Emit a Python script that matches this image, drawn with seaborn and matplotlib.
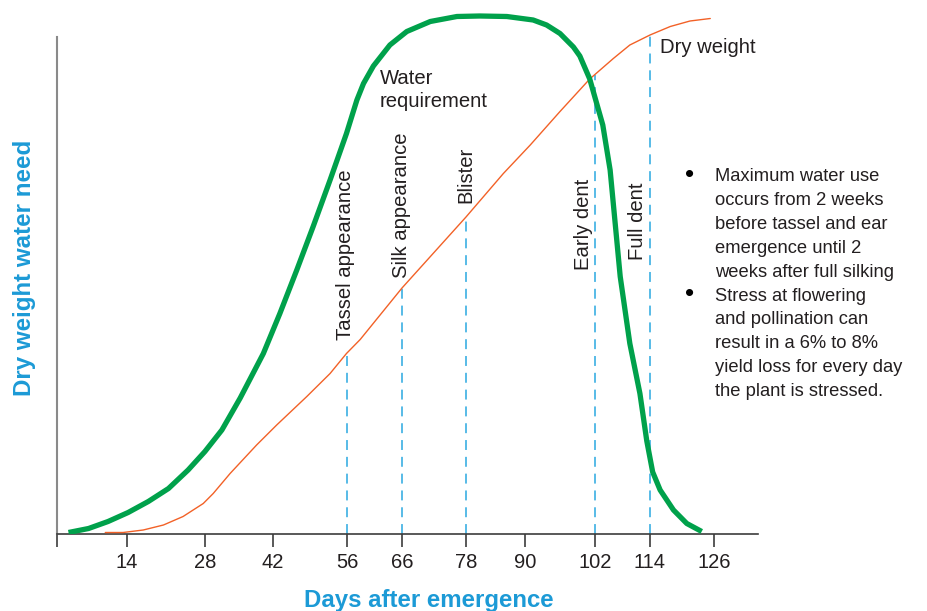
#!/usr/bin/env python3
"""Corn water requirement vs dry weight accumulation over the season."""

import numpy as np
import pandas as pd
import matplotlib
matplotlib.use("Agg")
import matplotlib.pyplot as plt
import seaborn as sns

# ============================== DATA ========================================
# water requirement curve (days after emergence, relative need)
WATER_DAYS = [3.5, 7.1, 10.6, 14.2, 17.8, 21.4, 24.9, 27.9, 31.4, 35.2,
              40.0, 43.3, 46.5, 49.6, 52.8, 55.9, 57.8, 59.0, 60.8, 63.8,
              66.9, 71.3, 76.3, 80.8, 86.3, 91.4, 93.7, 96.0, 98.3, 99.4,
              101.1, 103.7, 105.3, 107.5, 109.6, 111.8, 113.3, 114.5,
              115.9, 118.4, 120.9, 123.7]
WATER_NEED = [0.3, 1.1, 2.5, 4.3, 6.5, 9.1, 12.8, 16.5, 20.8, 27.2,
              36.1, 44.1, 52.8, 61.5, 70.8, 80.1, 86.8, 90.1, 93.6, 97.8,
              100.5, 102.5, 103.5, 103.6, 103.5, 102.8, 101.8, 100.1, 97.4,
              95.6, 91.0, 81.8, 72.8, 51.5, 38.1, 28.1, 18.6, 12.4,
              8.8, 4.8, 2.1, 0.5]

# dry weight accumulation curve
DRY_DAYS = [10.1, 13.3, 16.9, 20.5, 24.0, 27.6, 29.6, 33.1, 38.6, 42.7,
            48.4, 52.8, 55.9, 58.4, 66.0, 78.0, 85.6, 90.9, 96.0, 101.1,
            106.0, 109.6, 114.0, 117.8, 121.5, 125.3]
DRY_WEIGHT = [0.3, 0.3, 0.8, 1.8, 3.5, 6.1, 8.1, 12.1, 17.8, 21.8,
              27.5, 32.1, 36.1, 38.9, 49.2, 63.4, 72.1, 77.8, 84.5, 91.0,
              95.1, 97.8, 99.8, 101.5, 102.6, 103.1]

# growth stages
STAGE_DAYS = [56, 66, 78, 102, 114]
STAGE_LABELS = ["Tassel appearance", "Silk appearance", "Blister",
                "Early dent", "Full dent"]

TICK_DAYS = [14, 28, 42, 56, 66, 78, 90, 102, 114, 126]
TICK_LABELS = [str(d) for d in TICK_DAYS]

NOTES = [
    ["Maximum water use", "occurs from 2 weeks", "before tassel and ear",
     "emergence until 2", "weeks after full silking"],
    ["Stress at flowering", "and pollination can", "result in a 6% to 8%",
     "yield loss for every day", "the plant is stressed."],
]

# ============================== LAYOUT ======================================
W, H = 928, 611
DPI = 100
# the printed axis is not linear in days: pixel column of each tick
TICK_PX = [127, 205.5, 273, 347, 402, 466, 525, 595, 650, 714]
# where each stage label starts (y, in axis units) and its x shift (px)
STAGE_LABEL_Y = [38.8, 51.2, 66.2, 52.8, 54.8]
STAGE_LABEL_DX = [-1, 0, 0, -11, -12]

GREEN = "#00a14b"
ORANGE = "#f26127"
DASH_BLUE = "#29a8e0"
LABEL_BLUE = "#1c9ad6"
TEXT = "#231f20"
FS_LABEL = 14.6
FS_NOTE = 13.2

_D = [-1000] + TICK_DAYS + [1000]
_P = [49 - 5.571 * 1000] + TICK_PX + [714 + 5.357 * 874]


def days_to_px(d):
    return np.interp(d, _D, _P)


def px_to_days(p):
    return np.interp(p, _P, _D)


def fig_xy(px, py):
    return px / W, 1 - py / H


def main():
    sns.set_theme(style="white")
    plt.rcParams["font.family"] = ["Liberation Sans", "DejaVu Sans"]

    fig = plt.figure(figsize=(W / DPI, H / DPI), dpi=DPI)
    ax = fig.add_axes([57 / W, (H - 534) / H, (758 - 57) / W, 534 / H])
    ax.set_xscale("function", functions=(days_to_px, px_to_days))

    dry = pd.DataFrame({"day": DRY_DAYS, "weight": DRY_WEIGHT})
    water = pd.DataFrame({"day": WATER_DAYS, "need": WATER_NEED})

    sns.lineplot(data=dry, x="day", y="weight", color=ORANGE, lw=1.0,
                 sort=False, ax=ax, zorder=3)
    sns.lineplot(data=water, x="day", y="need", color=GREEN, lw=3.8,
                 sort=False, ax=ax, zorder=4, solid_capstyle="butt",
                 solid_joinstyle="round")

    # stage markers: dashed line from the dry weight curve down to the axis
    tops = np.interp(STAGE_DAYS, DRY_DAYS, DRY_WEIGHT)
    ax.vlines(STAGE_DAYS, 0, tops, colors=DASH_BLUE, lw=1.1,
              linestyles=(0, (6.5, 4.5)), zorder=2)
    for d, lab, ly, dx in zip(STAGE_DAYS, STAGE_LABELS, STAGE_LABEL_Y,
                              STAGE_LABEL_DX):
        ax.annotate(lab, xy=(d, ly), xytext=(dx, 0),
                    textcoords="offset pixels", rotation=90,
                    ha="center", va="bottom", fontsize=FS_LABEL, color=TEXT)

    xmin, xmax = px_to_days(57), px_to_days(758)
    ax.set_xlim(xmin, xmax)
    ax.set_ylim(0, 534 / 5)
    ax.set_xticks([xmin] + TICK_DAYS)
    ax.set_xticklabels([""] + TICK_LABELS)
    ax.set_yticks([])
    ax.set_xlabel("")
    ax.set_ylabel("")
    ax.tick_params(axis="x", direction="out", length=9, width=1.2,
                   color="#3c3c3c", pad=5, labelsize=14.5, labelcolor=TEXT,
                   bottom=True)

    for side in ["top", "right"]:
        ax.spines[side].set_visible(False)
    ax.spines["left"].set_color("#8a8a8a")
    ax.spines["left"].set_linewidth(1.5)
    ax.spines["left"].set_bounds(0, (534 - 37) / 5)
    ax.spines["bottom"].set_color("#3c3c3c")
    ax.spines["bottom"].set_linewidth(1.2)

    # axis titles
    fig.text(*fig_xy(429, 600), "Days after emergence", ha="center",
             va="center", fontsize=17.3, fontweight="bold", color=LABEL_BLUE)
    fig.text(*fig_xy(25, 268), "Dry weight water need", ha="center",
             va="center", rotation=90, fontsize=17.4, fontweight="bold",
             color=LABEL_BLUE)

    # curve names
    fig.text(*fig_xy(380, 84), "Water", fontsize=FS_LABEL, color=TEXT,
             va="baseline")
    fig.text(*fig_xy(380, 107), "requirement", fontsize=FS_LABEL, color=TEXT,
             va="baseline")
    fig.text(*fig_xy(660, 53), "Dry weight", fontsize=FS_LABEL, color=TEXT,
             va="baseline")

    # bullet notes
    y = 181
    for block in NOTES:
        fig.text(*fig_xy(690, y + 1), "\u2022", fontsize=19, color="black",
                 va="baseline", ha="center")
        for line in block:
            fig.text(*fig_xy(715, y), line, fontsize=FS_NOTE, color=TEXT,
                     va="baseline")
            y += 23.9

    fig.savefig("out.png", dpi=DPI)
    plt.close(fig)


if __name__ == "__main__":
    main()
